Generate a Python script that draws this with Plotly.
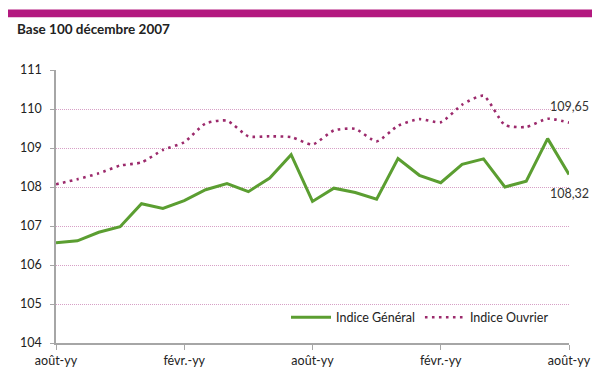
import plotly.graph_objects as go

x_idx = list(range(25))
tick_vals = [0, 6, 12, 18, 24]
tick_text = ["août-yy", "févr.-yy", "août-yy", "févr.-yy", "août-yy"]

indice_general = [106.57, 106.62, 106.84, 106.98, 107.57, 107.45, 107.65, 107.93, 108.09,
                  107.88, 108.23, 108.83, 107.63, 107.97, 107.86, 107.69, 108.73, 108.30,
                  108.11, 108.58, 108.72, 108.00, 108.15, 109.24, 108.32]
indice_ouvrier = [108.07, 108.20, 108.35, 108.55, 108.63, 108.95, 109.15, 109.63, 109.70,
                  109.30, 109.30, 109.28, 109.09, 109.45, 109.49, 109.17, 109.57, 109.74,
                  109.66, 110.11, 110.34, 109.59, 109.54, 109.75, 109.65]

W, H = 600, 372
L, R, T, B = 48, 39, 62, 30
pw, ph = W - L - R, H - T - B

def px_x(p):
    return (p - L) / pw

def px_y(p):
    return (H - B - p) / ph

font = "Lato, 'Open Sans', sans-serif"

fig = go.Figure()
fig.add_trace(go.Scatter(x=x_idx, y=indice_general, mode="lines", name="Indice Général",
                         line=dict(color="#5b9e31", width=3)))
fig.add_trace(go.Scatter(x=x_idx, y=indice_ouvrier, mode="lines", name="Indice Ouvrier",
                         line=dict(color="#9c2a6c", width=2.6, dash="2.6px,4.4px", shape="spline",
                                   smoothing=0.6)))

fig.add_annotation(x=24, y=indice_ouvrier[-1], text="109,65", showarrow=False,
                   xanchor="center", yanchor="bottom", yshift=7,
                   font=dict(size=12.5, color="#333333", family=font))
fig.add_annotation(x=24, y=indice_general[-1], text="108,32", showarrow=False,
                   xanchor="center", yanchor="top", yshift=-9,
                   font=dict(size=12.5, color="#333333", family=font))

fig.add_annotation(xref="paper", yref="paper", x=px_x(7), y=px_y(20), text="<b>Base 100 décembre 2007</b>",
                   showarrow=False, xanchor="left", yanchor="middle",
                   font=dict(size=13.5, color="#222222", family=font))

fig.add_shape(type="rect", xref="paper", yref="paper", x0=px_x(0), x1=px_x(592),
              y0=px_y(8), y1=px_y(0), fillcolor="#b3197f", line=dict(width=0), layer="above")

fig.update_layout(
    width=W, height=H,
    margin=dict(l=L, r=R, t=T, b=B),
    paper_bgcolor="white", plot_bgcolor="white",
    font=dict(family=font, size=12.5, color="#222222"),
    showlegend=True,
    legend=dict(orientation="h", x=px_x(278), y=px_y(316), xanchor="left", yanchor="middle",
                bgcolor="rgba(0,0,0,0)", font=dict(size=12.5, family=font, color="#222222"),
                itemwidth=40, tracegroupgap=0),
    xaxis=dict(range=[0, 24], tickvals=tick_vals, ticktext=tick_text, showgrid=False,
               showline=True, linecolor="#a6a6a6", linewidth=1.5, ticks="outside",
               tickcolor="#a6a6a6", ticklen=5, zeroline=False,
               tickfont=dict(size=12.5, family=font, color="#222222")),
    yaxis=dict(range=[104, 111], dtick=1, showgrid=True, gridcolor="#d7a0c6", griddash="1px,1px",
               gridwidth=1.2, showline=True, linecolor="#a6a6a6", linewidth=1.5,
               ticks="outside", tickcolor="#a6a6a6", ticklen=4, zeroline=False,
               ticklabelstandoff=6,
               tickfont=dict(size=12.5, family=font, color="#222222")),
)

fig.write_html("out.html")
